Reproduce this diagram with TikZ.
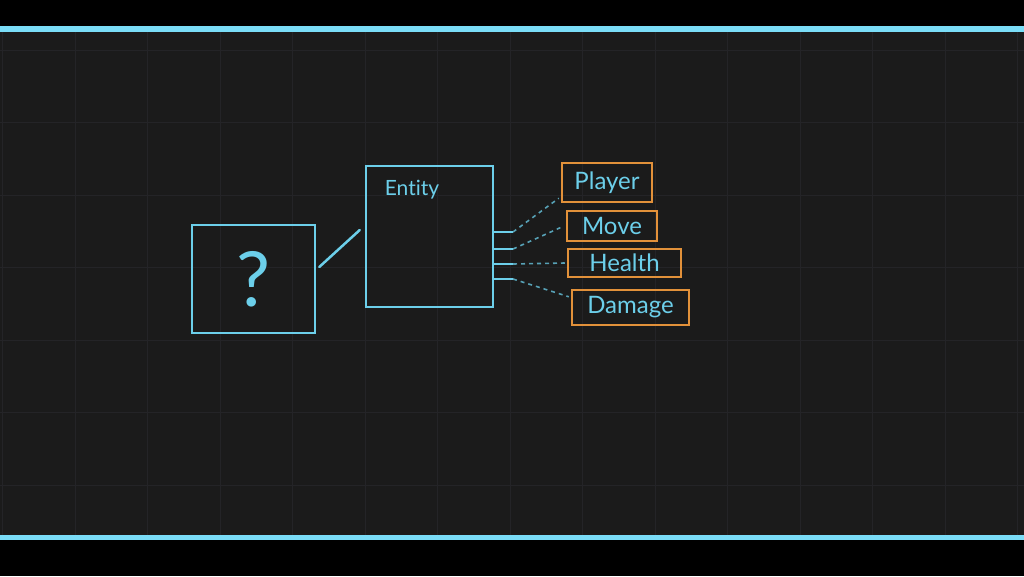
\documentclass[tikz,border=0pt]{standalone}
\usepackage{fontspec}
\setmainfont{Lato}[Ligatures=NoCommon]
\usetikzlibrary{calc}
\definecolor{bg}{HTML}{1B1B1B}
\definecolor{gridc}{HTML}{242427}
\definecolor{cy}{HTML}{6CCFEA}
\definecolor{band}{HTML}{7ADDF7}
\definecolor{orng}{HTML}{E2913A}
\begin{document}
\begin{tikzpicture}[x=1pt,y=-1pt,
  cybox/.style={draw=cy,line width=2.5pt,rectangle,inner sep=0pt},
  orbox/.style={draw=orng,line width=2.5pt,rectangle,inner sep=0pt,text=cy,font=\fontsize{24}{24}\selectfont},
  ticklin/.style={draw=cy,line width=2pt},
  dashconn/.style={draw=cy,line width=1.6pt,dash pattern=on 4pt off 4pt,opacity=0.75},
  solidconn/.style={draw=cy,line width=2.5pt,line cap=round}]
\useasboundingbox (0,0) rectangle (1024,576);
\fill[black] (0,0) rectangle (1024,576);
\fill[bg] (0,32) rectangle (1024,535);
\foreach \i in {0,...,14} {\draw[gridc,line width=1pt] ({2.5+72.5*\i},32) -- ++(0,503);}
\foreach \j in {0,...,6} {\draw[gridc,line width=1pt] (0,{50+72.5*\j}) -- (1024,{50+72.5*\j});}
\fill[band] (0,26) rectangle (1024,32);
\fill[band] (0,535) rectangle (1024,540);
% question box
\node[cybox,minimum width=123pt,minimum height=108pt,text=cy,font=\fontsize{76}{76}\selectfont] (q) at (253.5,279) {?};
% entity box
\node[cybox,minimum width=127pt,minimum height=141pt] (entity) at (429.5,236.5) {};
\node[text=cy,font=\fontsize{21}{21}\selectfont,inner sep=0pt] (elabel) at (412,190) {Entity};
\draw[solidconn] ([xshift=3pt,yshift=12pt]q.east) -- ([xshift=-5pt,yshift=6.5pt]entity.west);
% component boxes
\node[orbox,minimum width=90pt,minimum height=39pt] (player) at (607,182.5) {Player};
\node[orbox,minimum width=90pt,minimum height=30pt] (move) at (612,226) {Move};
\node[orbox,minimum width=113pt,minimum height=28pt] (health) at (624.5,263) {Health};
\node[orbox,minimum width=117pt,minimum height=35pt] (damage) at (630.5,307.5) {Damage};
% ticks
\coordinate (t1) at (513,232);
\coordinate (t2) at (513,249);
\coordinate (t3) at (513,264);
\coordinate (t4) at (513,279);
\foreach \t in {t1,t2,t3,t4} {\draw[ticklin] (entity.east |- \t) -- (\t);}
\draw[dashconn] (t1) -- ([xshift=-2pt,yshift=5pt]player.south west);
\draw[dashconn] (t2) -- ([xshift=-4pt,yshift=-1pt]move.west);
\draw[dashconn] (t3) -- ([xshift=-2pt]health.west);
\draw[dashconn] (t4) -- ([xshift=-2pt,yshift=-8pt]damage.north west);
\end{tikzpicture}
\end{document}
